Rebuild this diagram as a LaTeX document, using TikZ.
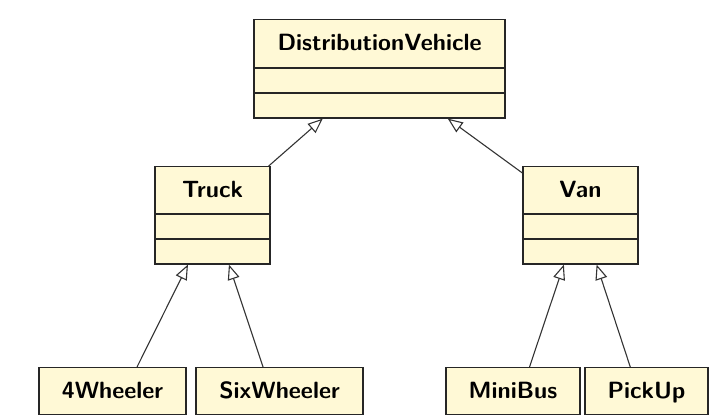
\documentclass[tikz,border=0pt]{standalone}
\usetikzlibrary{shapes.multipart,arrows.meta}
\definecolor{classfill}{RGB}{255,249,214}
\begin{document}
\begin{tikzpicture}[every node/.style={font=\sffamily\bfseries\fontsize{11.75}{14}\selectfont},
    umlclass/.style={draw=black!85, fill=classfill, line width=0.7pt, rectangle split, rectangle split parts=3,
        rectangle split empty part height=11.75pt, rectangle split empty part depth=0pt,
        inner xsep=0pt, inner ysep=0pt, anchor=north},
    inherit/.style={line width=0.55pt, draw=black!80, -{Triangle[open,length=7.5pt,width=6pt]}}]
        \useasboundingbox (0,0) rectangle (12.53cm,7.29cm);
        \coordinate (C0) at (6.67cm,6.956cm);
        \coordinate (C11) at (3.734cm,4.373cm);
        \coordinate (C12) at (10.2cm,4.373cm);
        \coordinate (C21) at (1.977cm,0.841cm);
        \coordinate (C22) at (4.912cm,0.841cm);
        \coordinate (C23) at (9.015cm,0.841cm);
        \coordinate (C24) at (11.361cm,0.841cm);
        
        \node[umlclass, minimum width=4.41cm] (dv) at (C0) {\rule[-8.5pt]{0pt}{23.5pt}DistributionVehicle};
        \node[umlclass, minimum width=2.02cm] (truck) at (C11) {\rule[-8pt]{0pt}{23pt}Truck};
        \node[umlclass, minimum width=2.02cm] (van) at (C12) {\rule[-8pt]{0pt}{23pt}Van};
        \node[umlclass, minimum width=2.583cm] (fourwheeler) at (C21) {\rule[-8pt]{0pt}{23pt}4Wheeler};
        \node[umlclass, minimum width=2.935cm] (sixwheeler) at (C22) {\rule[-8pt]{0pt}{23pt}SixWheeler};
        \node[umlclass, minimum width=2.355cm] (minibus) at (C23) {\rule[-8pt]{0pt}{23pt}MiniBus};
        \node[umlclass, minimum width=2.161cm] (pickup) at (C24) {\rule[-8pt]{0pt}{23pt}PickUp};
        
        \draw[inherit] (truck) -- (dv);
        \draw[inherit] (van) -- (dv);
        \draw[inherit] (fourwheeler) -- (truck);
        \draw[inherit] (sixwheeler) -- (truck);
        \draw[inherit] (minibus) -- (van);
        \draw[inherit] (pickup) -- (van);
    \end{tikzpicture}
\end{document}
